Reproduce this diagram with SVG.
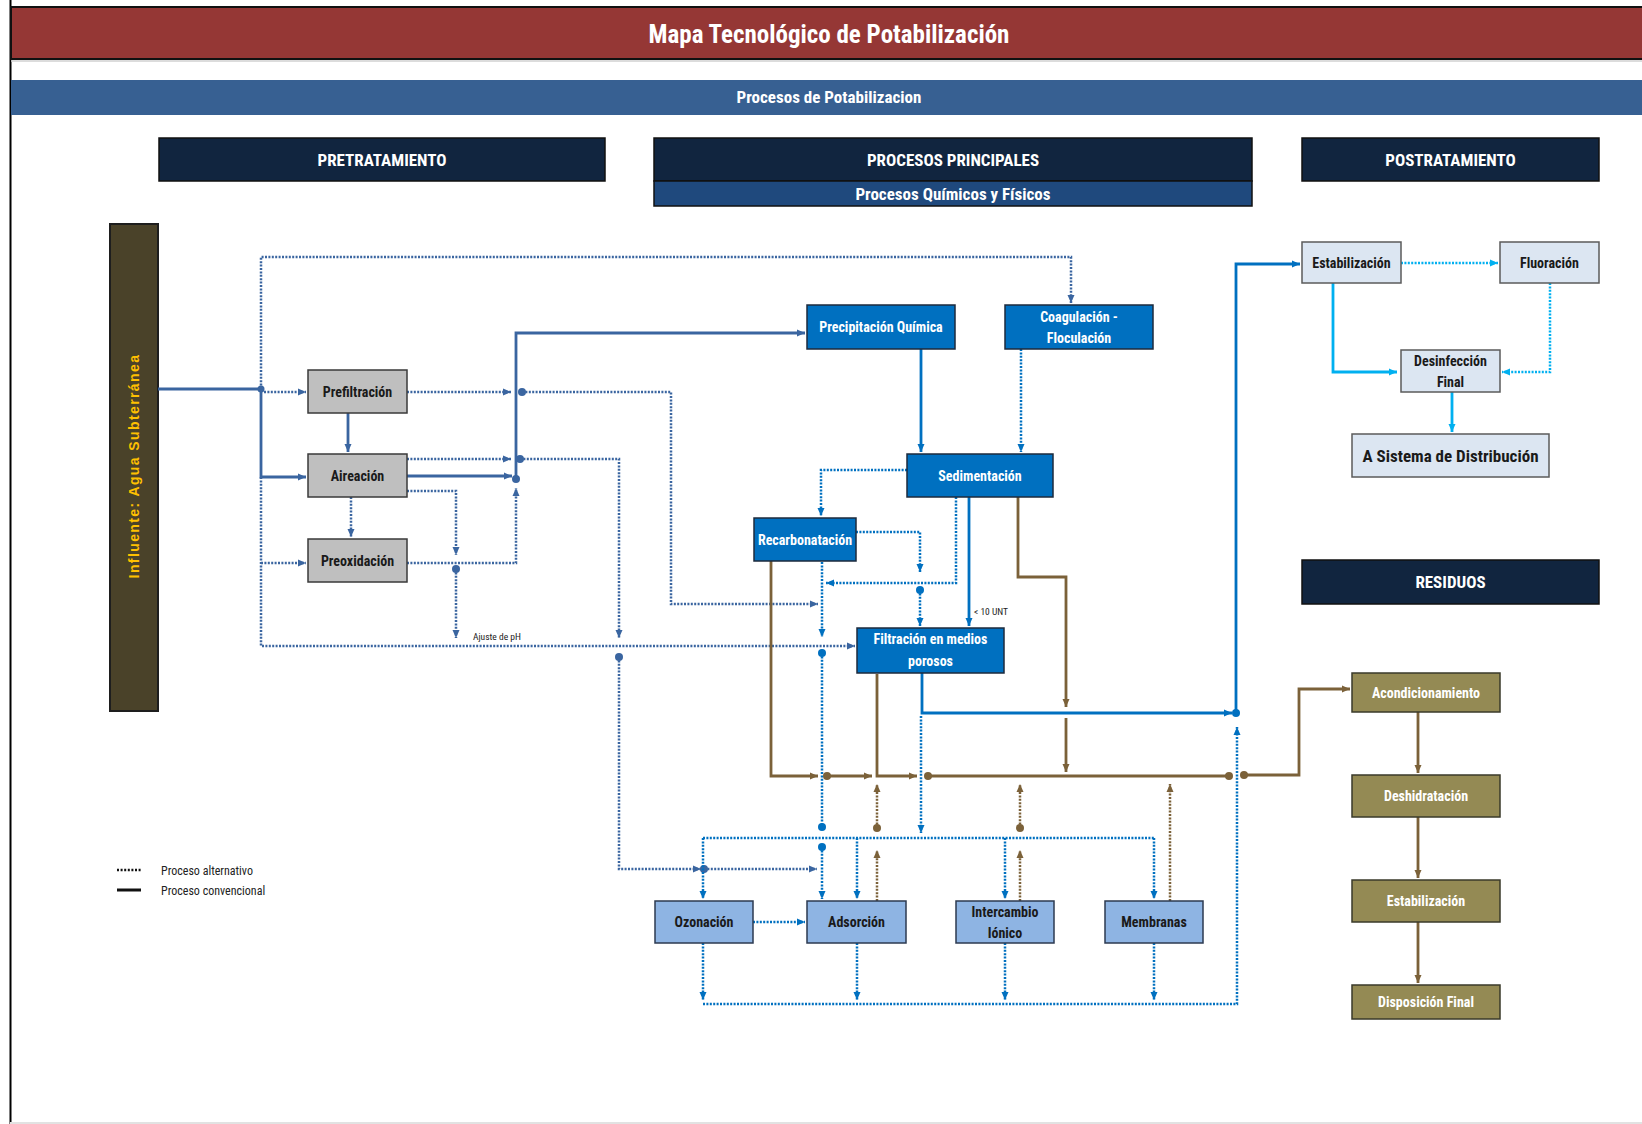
<svg xmlns="http://www.w3.org/2000/svg" width="1642" height="1124" viewBox="0 0 1642 1124">
<defs>
<style>
.t{font-family:"Liberation Sans Narrow","Arial Narrow","Roboto Condensed","DejaVu Sans Condensed","Liberation Sans",sans-serif;font-weight:bold;text-anchor:middle}
.tw{fill:#ffffff}
.tk{fill:#1a1a1a}
.n14{font-size:14px}
.hdr{fill:#11253f;stroke:#111;stroke-width:1.5}
.gray{fill:#bfbfbf;stroke:#3a3a3a;stroke-width:1.5}
.main{fill:#0070c0;stroke:#1c2a3c;stroke-width:1.5}
.lb{fill:#8eb4e3;stroke:#2c3a50;stroke-width:1.5}
.post{fill:#dce6f2;stroke:#5b5b5b;stroke-width:1.5}
.res{fill:#948a54;stroke:#3a3a2a;stroke-width:1.5}
.s{fill:none;stroke-width:2.8}
.d{fill:none;stroke-width:2.5;stroke-dasharray:2 1.4}
.steel{stroke:#3a65a0}
.blue{stroke:#0070c0}
.cyan{stroke:#00b0f0}
.brown{stroke:#7b6139}
.sm{font-family:"Liberation Sans Narrow","Arial Narrow","Roboto Condensed","DejaVu Sans Condensed","Liberation Sans",sans-serif;fill:#222;font-size:9.5px}
.lg{font-family:"Liberation Sans Narrow","Arial Narrow","Roboto Condensed","DejaVu Sans Condensed","Liberation Sans",sans-serif;fill:#222;font-size:12px}
</style>
<marker id="aSt" viewBox="0 0 8 8" refX="8" refY="4" markerWidth="8" markerHeight="8" markerUnits="userSpaceOnUse" orient="auto"><path d="M0,0.5 L8,4 L0,7.5 z" fill="#3a65a0"/></marker>
<marker id="aBl" viewBox="0 0 8 8" refX="8" refY="4" markerWidth="8" markerHeight="8" markerUnits="userSpaceOnUse" orient="auto"><path d="M0,0.5 L8,4 L0,7.5 z" fill="#0070c0"/></marker>
<marker id="aCy" viewBox="0 0 8 8" refX="8" refY="4" markerWidth="8" markerHeight="8" markerUnits="userSpaceOnUse" orient="auto"><path d="M0,0.5 L8,4 L0,7.5 z" fill="#00b0f0"/></marker>
<marker id="aBr" viewBox="0 0 8 8" refX="8" refY="4" markerWidth="8" markerHeight="8" markerUnits="userSpaceOnUse" orient="auto"><path d="M0,0.5 L8,4 L0,7.5 z" fill="#7b6139"/></marker>
</defs>
<rect x="0" y="0" width="1642" height="1124" fill="#ffffff"/>
<!-- frame -->
<line x1="10.5" y1="0" x2="10.5" y2="1124" stroke="#000" stroke-width="2"/>
<line x1="10" y1="1123" x2="1642" y2="1123" stroke="#e2e2e2" stroke-width="2"/>
<!-- title -->
<g id="title">
<rect x="11" y="7" width="1632" height="52" fill="#953735" stroke="#111" stroke-width="2"/>
<line x1="11" y1="61" x2="1642" y2="61" stroke="#d0d0d0" stroke-width="1.5"/>
<text class="t tw" x="829" y="43" font-size="25">Mapa Tecnológico de Potabilización</text>
</g>
<g id="band">
<rect x="11" y="80" width="1631" height="35" fill="#376092"/>
<text class="t tw" x="829" y="103" font-size="17">Procesos de Potabilizacion</text>
</g>
<!-- headers -->
<g id="h-pre"><rect class="hdr" x="159" y="138" width="446" height="43"/><text class="t tw" x="382" y="165.5" font-size="17">PRETRATAMIENTO</text></g>
<g id="h-main"><rect class="hdr" x="654" y="138" width="598" height="43"/><text class="t tw" x="953" y="165.5" font-size="17">PROCESOS PRINCIPALES</text>
<rect x="654" y="181" width="598" height="25" fill="#1f497d" stroke="#111" stroke-width="1.5"/><text class="t tw" x="953" y="199.5" font-size="17">Procesos Químicos y Físicos</text></g>
<g id="h-post"><rect class="hdr" x="1302" y="138" width="297" height="43"/><text class="t tw" x="1450.5" y="165.5" font-size="17">POSTRATAMIENTO</text></g>
<g id="h-res"><rect class="hdr" x="1302" y="560" width="297" height="44"/><text class="t tw" x="1450.5" y="588" font-size="17">RESIDUOS</text></g>
<!-- influent -->
<g id="influente"><rect x="110" y="224" width="48" height="487" fill="#4a4229" stroke="#1e1e1e" stroke-width="2"/>
<text transform="translate(134,466) rotate(-90)" x="0" y="5" font-family="'Liberation Sans',Arial,sans-serif" font-weight="bold" font-size="14" letter-spacing="1.4" fill="#ffc000" text-anchor="middle">Influente: Agua Subterránea</text></g>

<!-- connectors -->
<g id="connectors">
<!-- steel -->
<path class="s steel" d="M158,389 H261"/>
<path class="s steel" d="M261,389 V477 H306" marker-end="url(#aSt)"/>
<path class="d steel" d="M264,392 H306" marker-end="url(#aSt)"/>
<path class="d steel" d="M261,389 V257 H1071 V303" marker-end="url(#aSt)"/>
<path class="d steel" d="M261,477 V646 H855" marker-end="url(#aSt)"/>
<path class="d steel" d="M261,563 H306" marker-end="url(#aSt)"/>
<path class="s steel" d="M348,413 V452" marker-end="url(#aSt)" stroke-width="2"/>
<path class="d steel" d="M351,497 V537" marker-end="url(#aSt)"/>
<path class="d steel" d="M407,392 H511" marker-end="url(#aSt)"/>
<path class="d steel" d="M522,392 H671 V604 H818" marker-end="url(#aSt)"/>
<path class="s steel" d="M407,476 H512" marker-end="url(#aSt)"/>
<path class="s steel" d="M516,479 V333 H805" marker-end="url(#aSt)"/>
<path class="d steel" d="M407,459 H511" marker-end="url(#aSt)"/>
<path class="d steel" d="M520,459 H619 V638" marker-end="url(#aSt)"/>
<path class="d steel" d="M619,657 V869 H701" marker-end="url(#aSt)"/>
<path class="d steel" d="M704,869 H817" marker-end="url(#aSt)"/>
<path class="d steel" d="M407,491 H456 V555" marker-end="url(#aSt)"/>
<path class="d steel" d="M456,569 V638" marker-end="url(#aSt)"/>
<path class="d steel" d="M407,563 H516 V488" marker-end="url(#aSt)"/>
<g fill="#3a65a0">
<circle cx="261" cy="389" r="3.5"/><circle cx="522" cy="392" r="4"/><circle cx="520" cy="459" r="4"/><circle cx="516" cy="479" r="4"/>
<circle cx="456" cy="569" r="4"/><circle cx="619" cy="657" r="4"/><circle cx="704" cy="869" r="4"/>
</g>
<!-- blue -->
<path class="s blue" d="M921,349 V452" marker-end="url(#aBl)"/>
<path class="d blue" d="M1021,349 V452" marker-end="url(#aBl)"/>
<path class="d blue" d="M907,470 H821 V516" marker-end="url(#aBl)"/>
<path class="d blue" d="M856,532 H920 V572" marker-end="url(#aBl)"/>
<path class="d blue" d="M920,590 V626" marker-end="url(#aBl)"/>
<path class="d blue" d="M956,497 V583 H826" marker-end="url(#aBl)"/>
<path class="d blue" d="M822,562 V637" marker-end="url(#aBl)"/>
<path class="d blue" d="M822,653 V827"/>
<path class="d blue" d="M822,847 V899" marker-end="url(#aBl)"/>
<path class="s blue" d="M969,497 V626" marker-end="url(#aBl)"/>
<path class="s blue" d="M922,673 V713 H1232" marker-end="url(#aBl)"/>
<path class="s blue" d="M1236,713 V264 H1300" marker-end="url(#aBl)"/>
<path class="d blue" d="M921,716 V833" marker-end="url(#aBl)"/>
<path class="d blue" d="M703,838 H1154"/>
<path class="d blue" d="M703,838 V899" marker-end="url(#aBl)"/>
<path class="d blue" d="M857,838 V899" marker-end="url(#aBl)"/>
<path class="d blue" d="M1005,838 V899" marker-end="url(#aBl)"/>
<path class="d blue" d="M1154,838 V899" marker-end="url(#aBl)"/>
<path class="d blue" d="M753,922 H805" marker-end="url(#aBl)"/>
<path class="d blue" d="M703,943 V1000" marker-end="url(#aBl)"/>
<path class="d blue" d="M857,943 V1000" marker-end="url(#aBl)"/>
<path class="d blue" d="M1005,943 V1000" marker-end="url(#aBl)"/>
<path class="d blue" d="M1154,943 V1000" marker-end="url(#aBl)"/>
<path class="d blue" d="M703,1004 H1237 V727" marker-end="url(#aBl)"/>
<g fill="#0070c0">
<circle cx="920" cy="590" r="4"/><circle cx="822" cy="653" r="4"/><circle cx="822" cy="827" r="4"/><circle cx="822" cy="847" r="4"/><circle cx="1236" cy="713" r="4"/>
</g>
<!-- brown -->
<path class="s brown" d="M771,561 V776 H818" marker-end="url(#aBr)"/>
<path class="s brown" d="M827,776 H872" marker-end="url(#aBr)"/>
<path class="s brown" d="M877,674 V776 H917" marker-end="url(#aBr)"/>
<path class="s brown" d="M928,776 H1229"/>
<path class="s brown" d="M1018,497 V577 H1066 V707" marker-end="url(#aBr)"/>
<path class="s brown" d="M1066,718 V772" marker-end="url(#aBr)"/>
<path class="d brown" d="M877,901 V850" marker-end="url(#aBr)"/>
<path class="d brown" d="M877,828 V784" marker-end="url(#aBr)"/>
<path class="d brown" d="M1020,901 V850" marker-end="url(#aBr)"/>
<path class="d brown" d="M1020,828 V784" marker-end="url(#aBr)"/>
<path class="d brown" d="M1170,901 V784" marker-end="url(#aBr)"/>
<path class="s brown" d="M1244,775 H1299 V689 H1350" marker-end="url(#aBr)"/>
<path class="s brown" d="M1418,712 V773" marker-end="url(#aBr)" stroke-width="2.2"/>
<path class="s brown" d="M1418,817 V878" marker-end="url(#aBr)" stroke-width="2.2"/>
<path class="s brown" d="M1418,922 V983" marker-end="url(#aBr)" stroke-width="2.2"/>
<g fill="#7b6139">
<circle cx="827" cy="776" r="4"/><circle cx="928" cy="776" r="4"/><circle cx="1229" cy="776" r="4"/><circle cx="1244" cy="775" r="4"/>
<circle cx="877" cy="828" r="4"/><circle cx="1020" cy="828" r="4"/>
</g>
<!-- cyan -->
<path class="d cyan" d="M1401,263 H1498" marker-end="url(#aCy)"/>
<path class="s cyan" d="M1333,283 V372 H1397" marker-end="url(#aCy)"/>
<path class="d cyan" d="M1550,283 V372 H1502" marker-end="url(#aCy)"/>
<path class="s cyan" d="M1452,392 V432" marker-end="url(#aCy)"/>
<!-- labels -->
<text class="sm" x="473" y="640">Ajuste de pH</text>
<text class="sm" x="974" y="615">&lt; 10 UNT</text>
</g>

<!-- pretreatment nodes -->
<g id="prefiltracion"><rect class="gray" x="308" y="370" width="99" height="43"/><text class="t tk n14" x="357.5" y="396.5">Prefiltración</text></g>
<g id="aireacion"><rect class="gray" x="308" y="454" width="99" height="43"/><text class="t tk n14" x="357.5" y="480.5">Aireación</text></g>
<g id="preoxidacion"><rect class="gray" x="308" y="539" width="99" height="43"/><text class="t tk n14" x="357.5" y="565.5">Preoxidación</text></g>
<!-- main nodes -->
<g id="precipitacion"><rect class="main" x="807" y="305" width="148" height="44"/><text class="t tw n14" x="881" y="332">Precipitación Química</text></g>
<g id="coagulacion"><rect class="main" x="1005" y="305" width="148" height="44"/><text class="t tw n14" x="1079" y="322">Coagulación -</text><text class="t tw n14" x="1079" y="343">Floculación</text></g>
<g id="sedimentacion"><rect class="main" x="907" y="454" width="146" height="43"/><text class="t tw n14" x="980" y="480.5">Sedimentación</text></g>
<g id="recarbonatacion"><rect class="main" x="754" y="518" width="102" height="43"/><text class="t tw n14" x="805" y="544.5">Recarbonatación</text></g>
<g id="filtracion"><rect class="main" x="857" y="628" width="147" height="45"/><text class="t tw n14" x="930.5" y="644">Filtración en medios</text><text class="t tw n14" x="930.5" y="666">porosos</text></g>
<!-- bottom nodes -->
<g id="ozonacion"><rect class="lb" x="655" y="901" width="98" height="42"/><text class="t tk n14" x="704" y="927">Ozonación</text></g>
<g id="adsorcion"><rect class="lb" x="807" y="901" width="99" height="42"/><text class="t tk n14" x="856.5" y="927">Adsorción</text></g>
<g id="intercambio"><rect class="lb" x="956" y="901" width="98" height="42"/><text class="t tk n14" x="1005" y="917">Intercambio</text><text class="t tk n14" x="1005" y="938">Iónico</text></g>
<g id="membranas"><rect class="lb" x="1105" y="901" width="98" height="42"/><text class="t tk n14" x="1154" y="927">Membranas</text></g>
<!-- post nodes -->
<g id="estabilizacion-post"><rect class="post" x="1302" y="242" width="99" height="41"/><text class="t tk n14" x="1351.5" y="267.5">Estabilización</text></g>
<g id="fluoracion"><rect class="post" x="1500" y="242" width="99" height="41"/><text class="t tk n14" x="1549.5" y="267.5">Fluoración</text></g>
<g id="desinfeccion"><rect class="post" x="1401" y="350" width="99" height="42"/><text class="t tk n14" x="1450.5" y="366">Desinfección</text><text class="t tk n14" x="1450.5" y="387">Final</text></g>
<g id="distribucion"><rect class="post" x="1352" y="434" width="197" height="43"/><text class="t tk" font-size="17" x="1450.5" y="461.5">A Sistema de Distribución</text></g>
<!-- residuos nodes -->
<g id="acondicionamiento"><rect class="res" x="1352" y="673" width="148" height="39"/><text class="t tw n14" x="1426" y="697.5">Acondicionamiento</text></g>
<g id="deshidratacion"><rect class="res" x="1352" y="775" width="148" height="42"/><text class="t tw n14" x="1426" y="801">Deshidratación</text></g>
<g id="estabilizacion-res"><rect class="res" x="1352" y="880" width="148" height="42"/><text class="t tw n14" x="1426" y="906">Estabilización</text></g>
<g id="disposicion"><rect class="res" x="1352" y="985" width="148" height="34"/><text class="t tw n14" x="1426" y="1007">Disposición Final</text></g>
<!-- legend -->
<g id="legend">
<line x1="117" y1="870" x2="141" y2="870" stroke="#111" stroke-width="2.5" stroke-dasharray="2 1.6"/>
<line x1="117" y1="890" x2="141" y2="890" stroke="#111" stroke-width="3"/>
<text class="lg" x="161" y="874.5">Proceso alternativo</text>
<text class="lg" x="161" y="895">Proceso convencional</text>
</g>
</svg>
